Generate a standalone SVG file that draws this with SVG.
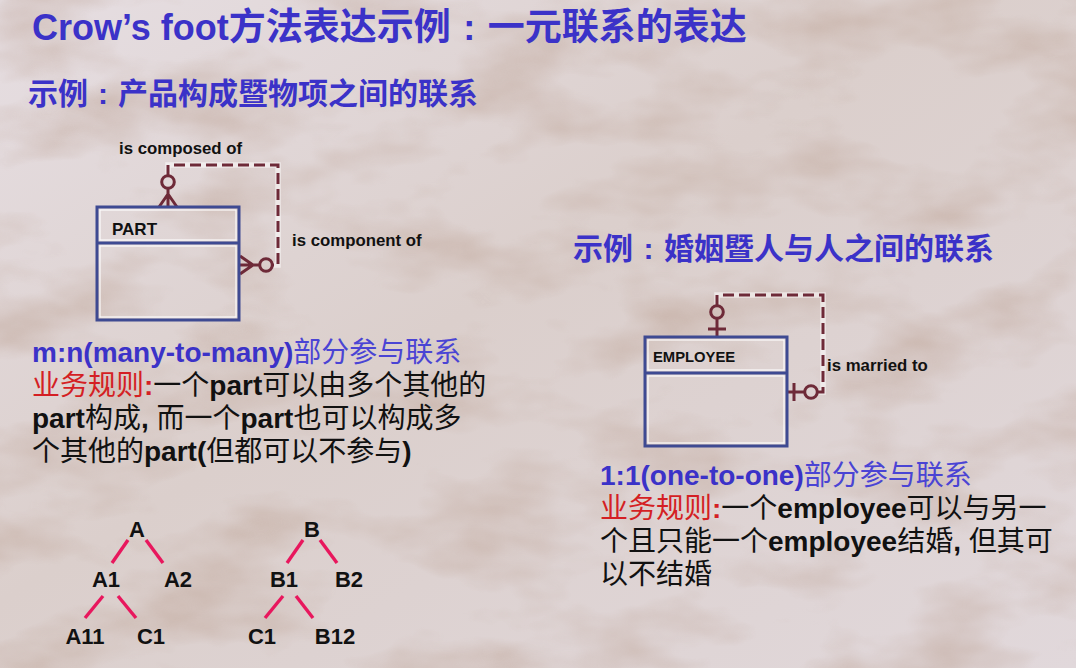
<svg xmlns="http://www.w3.org/2000/svg" width="1076" height="668" viewBox="0 0 1076 668">
  <defs>
    <linearGradient id="bgGrad" x1="0" y1="0" x2="1" y2="1">
      <stop offset="0" stop-color="#e6dee2"/>
      <stop offset="0.45" stop-color="#dbcfcc"/>
      <stop offset="1" stop-color="#e1d8db"/>
    </linearGradient>
    <filter id="grain" x="0" y="0" width="100%" height="100%">
      <feTurbulence type="fractalNoise" baseFrequency="0.007 0.014" numOctaves="4" seed="11"/>
      <feColorMatrix type="matrix" values="0 0 0 0 0.48  0 0 0 0 0.33  0 0 0 0 0.26  1.9 0 0 0 -0.85"/>
    </filter>
    <style>
      text { font-family: "Liberation Sans", "Noto Sans CJK SC", sans-serif; }
      .title { font-size: 36px; font-weight: bold; fill: #3b32c8; }
      .sub { font-size: 30px; font-weight: bold; fill: #3b32c8; }
      .body { font-size: 28px; fill: #111; }
      .b { font-weight: bold; }
      .blue { fill: #3b32c8; }
      .lblue { fill: #4a44d4; }
      .red { fill: #d41f24; }
      .lbl { font-size: 16.8px; font-weight: bold; fill: #111; }
      .ent-outer { fill: none; stroke: #3e4a92; stroke-width: 3; }
      .ent-inner { fill: none; stroke: #ffffff; stroke-width: 1.2; opacity: 0.9; }
      .rel { fill: none; stroke: #6e2a38; stroke-width: 3; }
      .dash { stroke-dasharray: 11 5; }
      .halo { fill: none; stroke: #ffffff; stroke-width: 5.5; opacity: 0.55; }
      .tree { font-size: 22px; font-weight: bold; fill: #111; text-anchor: middle; }
      .edge { stroke: #e8175d; stroke-width: 3.4; }
    </style>
  </defs>

  <!-- background -->
  <rect width="1076" height="668" fill="url(#bgGrad)"/>
  <rect width="1076" height="668" filter="url(#grain)" opacity="0.55"/>

  <!-- headings (colon set in the middle of a full-width cell) -->
  <text class="title" x="32" y="40">Crow’s foot<tspan font-size="37">方法表达示例</tspan><tspan dx="12.5">:</tspan><tspan font-size="37" dx="12.5">一元联系的表达</tspan></text>
  <text class="sub" x="28" y="104">示例<tspan dx="10">:</tspan><tspan dx="10">产品构成暨物项之间的联系</tspan></text>
  <text class="sub" x="573" y="259" font-size="31">示例<tspan dx="10.5">:</tspan><tspan dx="10.5">婚姻暨人与人之间的联系</tspan></text>

  <!-- relationship connectors -->
  <g id="connectors">
    <!-- PART recursive m:n -->
    <path class="halo" d="M168,176 V165 H278 V265 H273"/>
    <path class="rel" d="M168,176 V165"/>
    <path class="rel dash" d="M174,165 H278 V265 H273"/>
    <circle class="rel" cx="168" cy="182" r="6.3"/>
    <path class="rel" d="M168,188 V207 M168,194 L159,207 M168,194 L177,207"/>
    <circle class="rel" cx="266" cy="265" r="6.3"/>
    <path class="rel" d="M260,265 H239 M253,265 L240,256 M253,265 L240,274"/>

    <!-- EMPLOYEE recursive 1:1 -->
    <path class="halo" d="M717,306 V295 H823 V392 H817"/>
    <path class="rel" d="M717,306 V295"/>
    <path class="rel dash" d="M723,295 H823 V392 H817"/>
    <circle class="rel" cx="717" cy="312" r="6.3"/>
    <path class="rel" d="M717,318 V337 M708,329 H726"/>
    <circle class="rel" cx="811" cy="392" r="6.3"/>
    <path class="rel" d="M805,392 H787 M794,383 V401"/>
  </g>

  <g id="label-composed">
    <text class="lbl" x="119" y="154">is composed of</text>
  </g>
  <g id="label-component">
    <text class="lbl" x="292" y="246">is component of</text>
  </g>
  <g id="label-married">
    <text class="lbl" x="827" y="371">is married to</text>
  </g>

  <!-- PART entity -->
  <g id="part">
    <rect x="100" y="210" width="136" height="30" class="ent-inner"/>
    <rect x="100" y="246" width="136" height="71" class="ent-inner"/>
    <rect x="97" y="207" width="142" height="113" class="ent-outer"/>
    <line x1="97" y1="243" x2="239" y2="243" class="ent-outer"/>
    <text x="112" y="235" font-size="17" font-weight="bold" fill="#111">PART</text>
  </g>

  <!-- EMPLOYEE entity -->
  <g id="employee">
    <rect x="648" y="340" width="136" height="30" class="ent-inner"/>
    <rect x="648" y="376" width="136" height="67" class="ent-inner"/>
    <rect x="645" y="337" width="142" height="109" class="ent-outer"/>
    <line x1="645" y1="373" x2="787" y2="373" class="ent-outer"/>
    <text x="653" y="362" font-size="14.8" font-weight="bold" fill="#111">EMPLOYEE</text>
  </g>

  <!-- m:n rule text -->
  <g id="rule-mn" class="body">
    <text x="32" y="362"><tspan class="b blue">m:n(many-to-many)</tspan><tspan class="lblue">部分参与联系</tspan></text>
    <text x="32" y="395"><tspan class="red">业务规则</tspan><tspan class="red b">:</tspan>一个<tspan class="b">part</tspan>可以由多个其他的</text>
    <text x="32" y="428"><tspan class="b">part</tspan>构成<tspan class="b">, </tspan>而一个<tspan class="b">part</tspan>也可以构成多</text>
    <text x="32" y="461">个其他的<tspan class="b">part(</tspan>但都可以不参与<tspan class="b">)</tspan></text>
  </g>

  <!-- 1:1 rule text -->
  <g id="rule-11" class="body">
    <text x="600" y="485"><tspan class="b blue">1:1(one-to-one)</tspan><tspan class="lblue">部分参与联系</tspan></text>
    <text x="600" y="518"><tspan class="red">业务规则</tspan><tspan class="red b">:</tspan>一个<tspan class="b">employee</tspan>可以与另一</text>
    <text x="600" y="551">个且只能一个<tspan class="b">employee</tspan>结婚<tspan class="b">, </tspan>但其可</text>
    <text x="600" y="584">以不结婚</text>
  </g>

  <!-- example trees -->
  <g id="tree-edges">
    <line class="edge" x1="128" y1="540" x2="112" y2="563"/>
    <line class="edge" x1="146" y1="540" x2="163" y2="563"/>
    <line class="edge" x1="103" y1="596" x2="85" y2="618"/>
    <line class="edge" x1="118" y1="596" x2="136" y2="618"/>
    <line class="edge" x1="303" y1="540" x2="287" y2="563"/>
    <line class="edge" x1="320" y1="540" x2="337" y2="563"/>
    <line class="edge" x1="283" y1="596" x2="265" y2="618"/>
    <line class="edge" x1="296" y1="596" x2="313" y2="618"/>
  </g>
  <g id="node-A"><text class="tree" x="137" y="537">A</text></g>
  <g id="node-A1"><text class="tree" x="106" y="587">A1</text></g>
  <g id="node-A2"><text class="tree" x="178" y="587">A2</text></g>
  <g id="node-A11"><text class="tree" x="85" y="644">A11</text></g>
  <g id="node-A-C1"><text class="tree" x="151" y="644">C1</text></g>
  <g id="node-B"><text class="tree" x="312" y="537">B</text></g>
  <g id="node-B1"><text class="tree" x="284" y="587">B1</text></g>
  <g id="node-B2"><text class="tree" x="349" y="587">B2</text></g>
  <g id="node-B-C1"><text class="tree" x="262" y="644">C1</text></g>
  <g id="node-B12"><text class="tree" x="335" y="644">B12</text></g>
</svg>
